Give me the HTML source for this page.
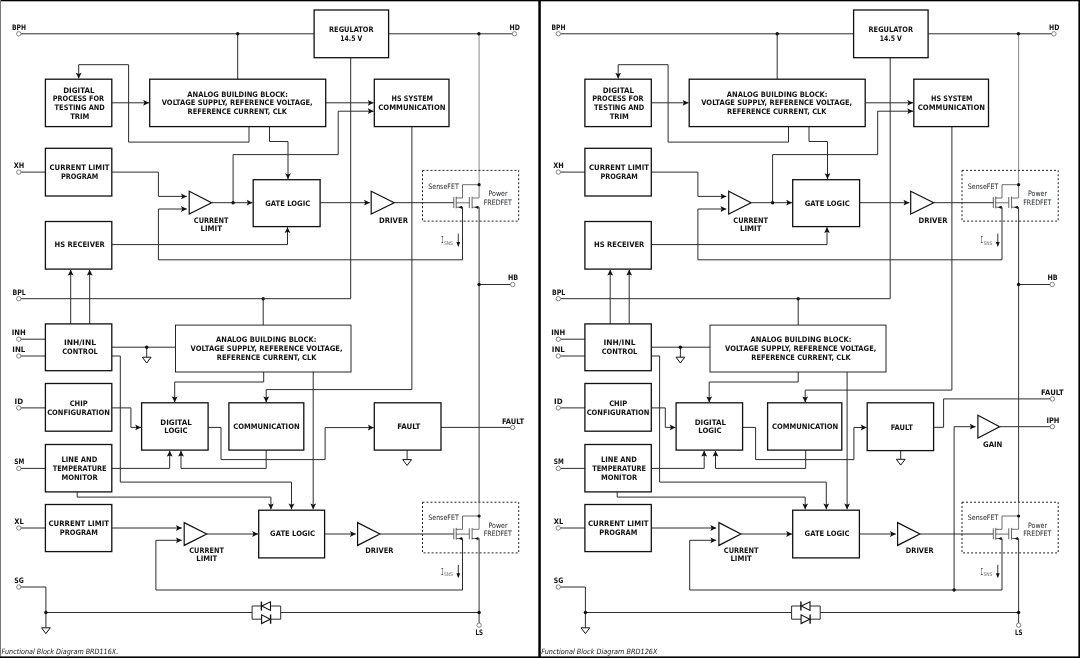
<!DOCTYPE html>
<html lang="en"><head><meta charset="utf-8"><title>Functional Block Diagrams BRD116X / BRD126X</title>
<style>
html,body{margin:0;padding:0;background:#fff}
body{width:1080px;height:658px;overflow:hidden;position:relative}
svg{display:block;position:absolute;left:0;top:0;will-change:transform}
text{font-family:"DejaVu Sans","Liberation Sans",sans-serif}
.b{font-weight:bold;font-size:7.5px;fill:#111}
.r{font-weight:normal;font-size:7.4px;fill:#24262c}
.cap{font-family:"DejaVu Sans","Liberation Sans",sans-serif;font-style:italic;font-size:7.2px;fill:#111}
</style></head><body>
<svg width="1080" height="658" viewBox="0 0 1080 658">
<rect x="0" y="0" width="1080" height="658" fill="#fff"/>
<g id="left">
<path d="M411.9 126.6 L411.9 389.6 L266.2 389.6 L266.2 402.2" fill="none" stroke="#2c2c2c" stroke-width="1"/>
<polygon points="266.2,402.2 263.3,396.4 266.2,397.6 269.1,396.4" fill="#111"/>
<path d="M263.2 298.7 L263.2 325.1" fill="none" stroke="#2c2c2c" stroke-width="1"/>
<circle cx="263.2" cy="298.7" r="1.7" fill="#111"/>
<path d="M111.8 347.2 L175.5 347.2" fill="none" stroke="#2c2c2c" stroke-width="1"/>
<path d="M146.7 347.2 L146.7 357.2" fill="none" stroke="#2c2c2c" stroke-width="1"/>
<polygon points="142.3,357.2 151.1,357.2 146.7,363" fill="#fff" stroke="#111" stroke-width="1"/>
<circle cx="146.7" cy="347.2" r="1.7" fill="#111"/>
<path d="M111.8 356 L120.3 356 L120.3 482.1 L291.5 482.1 L291.5 509.3" fill="none" stroke="#2c2c2c" stroke-width="1"/>
<polygon points="291.5,509.3 288.6,503.5 291.5,504.7 294.4,503.5" fill="#111"/>
<path d="M263.7 372 L263.7 382 L174.7 382 L174.7 402.2" fill="none" stroke="#2c2c2c" stroke-width="1"/>
<polygon points="174.7,402.2 171.8,396.4 174.7,397.6 177.6,396.4" fill="#111"/>
<path d="M313.2 372 L313.2 509.3" fill="none" stroke="#2c2c2c" stroke-width="1"/>
<polygon points="313.2,509.3 310.3,503.5 313.2,504.7 316.1,503.5" fill="#111"/>
<path d="M111.8 407.9 L130.9 407.9 L130.9 427.4 L141 427.4" fill="none" stroke="#2c2c2c" stroke-width="1"/>
<polygon points="141,427.4 135.2,424.5 136.4,427.4 135.2,430.3" fill="#111"/>
<path d="M208.1 427.4 L221 427.4 L221 459.6 L325.1 459.6 L325.1 427.6 L373.7 427.6" fill="none" stroke="#2c2c2c" stroke-width="1"/>
<polygon points="373.7,427.6 367.9,424.7 369.1,427.6 367.9,430.5" fill="#111"/>
<path d="M266.2 450.1 L266.2 468.4 L181 468.4 L181 450.8" fill="none" stroke="#2c2c2c" stroke-width="1"/>
<polygon points="181,450.8 178.1,456.6 181,455.4 183.9,456.6" fill="#111"/>
<path d="M111.8 468.4 L169.7 468.4 L169.7 450.8" fill="none" stroke="#2c2c2c" stroke-width="1"/>
<polygon points="169.7,450.8 166.8,456.6 169.7,455.4 172.6,456.6" fill="#111"/>
<path d="M77.2 491.9 L77.2 497.1 L270.9 497.1 L270.9 509.3" fill="none" stroke="#2c2c2c" stroke-width="1"/>
<polygon points="270.9,509.3 268,503.5 270.9,504.7 273.8,503.5" fill="#111"/>
<path d="M111.8 528 L181.8 528" fill="none" stroke="#2c2c2c" stroke-width="1"/>
<polygon points="181.8,528 176,525.1 177.2,528 176,530.9" fill="#111"/>
<path d="M462.5 538.5 L462.5 590 L155.9 590 L155.9 540.3 L181.8 540.3" fill="none" stroke="#2c2c2c" stroke-width="1"/>
<polygon points="181.8,540.3 176,537.4 177.2,540.3 176,543.2" fill="#111"/>
<path d="M207.1 534 L258 534" fill="none" stroke="#2c2c2c" stroke-width="1"/>
<polygon points="258,534 252.2,531.1 253.4,534 252.2,536.9" fill="#111"/>
<path d="M324.6 534 L355.8 534" fill="none" stroke="#2c2c2c" stroke-width="1"/>
<polygon points="355.8,534 350,531.1 351.2,534 350,536.9" fill="#111"/>
<path d="M380.3 534 L453.8 534" fill="none" stroke="#2c2c2c" stroke-width="1"/>
<path d="M441 427.4 L510.6 427.4" fill="none" stroke="#2c2c2c" stroke-width="1"/>
<path d="M407.1 450.1 L407.1 459.6" fill="none" stroke="#2c2c2c" stroke-width="1"/>
<polygon points="402.7,459.6 411.5,459.6 407.1,465.4" fill="#fff" stroke="#111" stroke-width="1"/>
<rect x="175.5" y="325.1" width="175.5" height="46.9" fill="#fff" stroke="#111" stroke-width="0.9"/>
<rect x="141.6" y="402.8" width="66.5" height="47.3" fill="#fff" stroke="#111" stroke-width="1.3"/>
<rect x="228.9" y="402.8" width="74.9" height="47.3" fill="#fff" stroke="#111" stroke-width="1.3"/>
<rect x="374.3" y="402.8" width="66.7" height="47.3" fill="#fff" stroke="#111" stroke-width="1.3"/>
<rect x="258.7" y="510.2" width="65.9" height="47.7" fill="#fff" stroke="#111" stroke-width="1.3"/>
<polygon points="184.2,522.6 206.7,534 184.2,545.4" fill="#fff" stroke="#111" stroke-width="1.2" stroke-linejoin="miter"/>
<polygon points="357.6,522.6 379.9,534 357.6,545.4" fill="#fff" stroke="#111" stroke-width="1.2" stroke-linejoin="miter"/>
<circle cx="512.7" cy="427.4" r="2.2" fill="#fff" stroke="#666" stroke-width="0.8"/>
<text x="266.2" y="341.93" class="b" text-anchor="middle" textLength="100.3" lengthAdjust="spacingAndGlyphs">ANALOG BUILDING BLOCK:</text>
<text x="266.6" y="351.13" class="b" text-anchor="middle" textLength="152" lengthAdjust="spacingAndGlyphs">VOLTAGE SUPPLY, REFERENCE VOLTAGE,</text>
<text x="266.6" y="359.93" class="b" text-anchor="middle" textLength="99.6" lengthAdjust="spacingAndGlyphs">REFERENCE CURRENT, CLK</text>
<text x="176" y="424.63" class="b" text-anchor="middle" textLength="31.4" lengthAdjust="spacingAndGlyphs">DIGITAL</text>
<text x="175.9" y="433.43" class="b" text-anchor="middle" textLength="23.3" lengthAdjust="spacingAndGlyphs">LOGIC</text>
<text x="266.4" y="429.33" class="b" text-anchor="middle" textLength="66.5" lengthAdjust="spacingAndGlyphs">COMMUNICATION</text>
<text x="408.8" y="429.33" class="b" text-anchor="middle" textLength="23.3" lengthAdjust="spacingAndGlyphs">FAULT</text>
<text x="513" y="423.63" class="b" text-anchor="middle" textLength="22.1" lengthAdjust="spacingAndGlyphs">FAULT</text>
<text x="206.6" y="553.13" class="b" text-anchor="middle" textLength="34.6" lengthAdjust="spacingAndGlyphs">CURRENT</text>
<text x="206.8" y="561.43" class="b" text-anchor="middle" textLength="21" lengthAdjust="spacingAndGlyphs">LIMIT</text>
<text x="292.6" y="536.03" class="b" text-anchor="middle" textLength="45" lengthAdjust="spacingAndGlyphs">GATE LOGIC</text>
<text x="379.4" y="552.63" class="b" text-anchor="middle" textLength="28.3" lengthAdjust="spacingAndGlyphs">DRIVER</text>
<path d="M21 33.8 L314.1 33.8" fill="none" stroke="#2c2c2c" stroke-width="1"/>
<path d="M388.6 33.8 L512.3 33.8" fill="none" stroke="#2c2c2c" stroke-width="1"/>
<path d="M237.7 33.8 L237.7 79.2" fill="none" stroke="#2c2c2c" stroke-width="1"/>
<path d="M479.1 33.8 L479.1 170" fill="none" stroke="#8a8a8a" stroke-width="1"/>
<path d="M479.1 170 L479.1 184.7" fill="none" stroke="#8a8a8a" stroke-width="1"/>
<path d="M479.1 207.2 L479.1 502" fill="none" stroke="#333" stroke-width="1"/>
<path d="M479.1 502 L479.1 516" fill="none" stroke="#8a8a8a" stroke-width="1"/>
<path d="M479.1 538.5 L479.1 623" fill="none" stroke="#333" stroke-width="1"/>
<path d="M479.1 284.5 L510.6 284.5" fill="none" stroke="#2c2c2c" stroke-width="1"/>
<path d="M350.7 57.7 L350.7 298.7 L21 298.7" fill="none" stroke="#2c2c2c" stroke-width="1"/>
<path d="M249 126.6 L249 142.1 L128.6 142.1 L128.6 64.7 L78.7 64.7 L78.7 78.6" fill="none" stroke="#2c2c2c" stroke-width="1"/>
<polygon points="78.7,78.6 75.8,72.8 78.7,74 81.6,72.8" fill="#111"/>
<path d="M111.8 102.8 L149 102.8" fill="none" stroke="#2c2c2c" stroke-width="1"/>
<polygon points="149,102.8 143.2,99.9 144.4,102.8 143.2,105.7" fill="#111"/>
<path d="M269.5 126.6 L269.5 141.5 L288 141.5 L288 179" fill="none" stroke="#2c2c2c" stroke-width="1"/>
<polygon points="288,179 285.1,173.2 288,174.4 290.9,173.2" fill="#111"/>
<path d="M325.7 102.8 L373.6 102.8" fill="none" stroke="#2c2c2c" stroke-width="1"/>
<polygon points="373.6,102.8 367.8,99.9 369,102.8 367.8,105.7" fill="#111"/>
<path d="M233.1 202.7 L233.1 154.6 L338.2 154.6 L338.2 111.2 L373.6 111.2" fill="none" stroke="#2c2c2c" stroke-width="1"/>
<polygon points="373.6,111.2 367.8,108.3 369,111.2 367.8,114.1" fill="#111"/>
<path d="M21 172.1 L45.4 172.1" fill="none" stroke="#2c2c2c" stroke-width="1"/>
<path d="M111.8 172.1 L158.4 172.1 L158.4 196.4 L186.8 196.4" fill="none" stroke="#2c2c2c" stroke-width="1"/>
<polygon points="186.8,196.4 181,193.5 182.2,196.4 181,199.3" fill="#111"/>
<path d="M462.5 207.2 L462.5 259.8 L158.4 259.8 L158.4 209 L186.8 209" fill="none" stroke="#2c2c2c" stroke-width="1"/>
<polygon points="186.8,209 181,206.1 182.2,209 181,211.9" fill="#111"/>
<path d="M212 202.7 L252.5 202.7" fill="none" stroke="#2c2c2c" stroke-width="1"/>
<polygon points="252.5,202.7 246.7,199.8 247.9,202.7 246.7,205.6" fill="#111"/>
<path d="M111.8 244.6 L287.5 244.6 L287.5 227.2" fill="none" stroke="#2c2c2c" stroke-width="1"/>
<polygon points="287.5,227.2 284.6,233 287.5,231.8 290.4,233" fill="#111"/>
<path d="M320.1 202.7 L369.8 202.7" fill="none" stroke="#2c2c2c" stroke-width="1"/>
<polygon points="369.8,202.7 364,199.8 365.2,202.7 364,205.6" fill="#111"/>
<path d="M394.6 202.7 L453.8 202.7" fill="none" stroke="#2c2c2c" stroke-width="1"/>
<path d="M70.7 323.9 L70.7 269.8" fill="none" stroke="#2c2c2c" stroke-width="1"/>
<polygon points="70.7,269.8 67.8,275.6 70.7,274.4 73.6,275.6" fill="#111"/>
<path d="M89.7 323.9 L89.7 269.8" fill="none" stroke="#2c2c2c" stroke-width="1"/>
<polygon points="89.7,269.8 86.8,275.6 89.7,274.4 92.6,275.6" fill="#111"/>
<path d="M21 339.2 L45.4 339.2" fill="none" stroke="#2c2c2c" stroke-width="1"/>
<path d="M21 356 L45.4 356" fill="none" stroke="#2c2c2c" stroke-width="1"/>
<path d="M21 407.9 L45.4 407.9" fill="none" stroke="#2c2c2c" stroke-width="1"/>
<path d="M21 468.4 L45.4 468.4" fill="none" stroke="#2c2c2c" stroke-width="1"/>
<path d="M21 528 L45.4 528" fill="none" stroke="#2c2c2c" stroke-width="1"/>
<path d="M21 587 L45.9 587 L45.9 612.5" fill="none" stroke="#2c2c2c" stroke-width="1"/>
<path d="M45.9 612.5 L45.9 627.8" fill="none" stroke="#2c2c2c" stroke-width="1"/>
<polygon points="41.5,627.8 50.3,627.8 45.9,633.6" fill="#fff" stroke="#111" stroke-width="1"/>
<path d="M45.9 612.5 L252.1 612.5" fill="none" stroke="#2c2c2c" stroke-width="1"/>
<path d="M280.7 612.5 L479.1 612.5" fill="none" stroke="#2c2c2c" stroke-width="1"/>
<path d="M252.1 606 L252.1 619.2" fill="none" stroke="#2c2c2c" stroke-width="1"/>
<path d="M280.7 606 L280.7 619.2" fill="none" stroke="#2c2c2c" stroke-width="1"/>
<path d="M252.1 606 L261.4 606" fill="none" stroke="#2c2c2c" stroke-width="1"/>
<path d="M270.7 606 L280.7 606" fill="none" stroke="#2c2c2c" stroke-width="1"/>
<path d="M252.1 619.2 L261.6 619.2" fill="none" stroke="#2c2c2c" stroke-width="1"/>
<path d="M270.5 619.2 L280.7 619.2" fill="none" stroke="#2c2c2c" stroke-width="1"/>
<polygon points="261.8,606 270.5,601.8 270.5,610.4" fill="#fff" stroke="#111" stroke-width="1.1"/>
<path d="M261.4 601.6 L261.4 610.6" fill="none" stroke="#111" stroke-width="1.4"/>
<polygon points="270.2,619.2 261.6,614.8 261.6,623.6" fill="#fff" stroke="#111" stroke-width="1.1"/>
<path d="M270.6 614.5 L270.6 623.8" fill="none" stroke="#111" stroke-width="1.4"/>
<rect x="314.1" y="10" width="74.5" height="47.7" fill="#fff" stroke="#111" stroke-width="1.3"/>
<rect x="45.4" y="79.2" width="66.4" height="47.4" fill="#fff" stroke="#111" stroke-width="1.3"/>
<rect x="149.7" y="79.2" width="176" height="47.4" fill="#fff" stroke="#111" stroke-width="1.3"/>
<rect x="374.3" y="79.2" width="74.7" height="47.4" fill="#fff" stroke="#111" stroke-width="1.3"/>
<rect x="45.4" y="148.3" width="66.4" height="47.7" fill="#fff" stroke="#111" stroke-width="1.3"/>
<rect x="45.4" y="221.5" width="66.4" height="47.6" fill="#fff" stroke="#111" stroke-width="1.3"/>
<rect x="253.2" y="179.7" width="66.9" height="46.9" fill="#fff" stroke="#111" stroke-width="1.3"/>
<rect x="45.4" y="323.9" width="66.4" height="46.8" fill="#fff" stroke="#111" stroke-width="1.3"/>
<rect x="45.4" y="383.5" width="66.4" height="47.7" fill="#fff" stroke="#111" stroke-width="1.3"/>
<rect x="45.4" y="444.5" width="66.4" height="47.4" fill="#fff" stroke="#111" stroke-width="1.3"/>
<rect x="45.4" y="504.5" width="66.4" height="47.1" fill="#fff" stroke="#111" stroke-width="1.3"/>
<polygon points="189.2,191.3 211.6,202.7 189.2,214.1" fill="#fff" stroke="#111" stroke-width="1.2" stroke-linejoin="miter"/>
<polygon points="371.2,191.3 394.2,202.7 371.2,214.1" fill="#fff" stroke="#111" stroke-width="1.2" stroke-linejoin="miter"/>
<circle cx="237.7" cy="33.8" r="1.7" fill="#111"/>
<circle cx="478.9" cy="33.8" r="1.7" fill="#111"/>
<circle cx="233.1" cy="202.7" r="1.7" fill="#111"/>
<circle cx="479.1" cy="284.5" r="1.7" fill="#111"/>
<circle cx="45.9" cy="612.5" r="1.7" fill="#111"/>
<circle cx="479.1" cy="612.5" r="1.7" fill="#111"/>
<circle cx="18.8" cy="33.8" r="2.2" fill="#fff" stroke="#666" stroke-width="0.8"/>
<circle cx="514.4" cy="33.8" r="2.2" fill="#fff" stroke="#666" stroke-width="0.8"/>
<circle cx="18.8" cy="172.1" r="2.2" fill="#fff" stroke="#666" stroke-width="0.8"/>
<circle cx="18.8" cy="298.7" r="2.2" fill="#fff" stroke="#666" stroke-width="0.8"/>
<circle cx="18.8" cy="339.2" r="2.2" fill="#fff" stroke="#666" stroke-width="0.8"/>
<circle cx="18.8" cy="356" r="2.2" fill="#fff" stroke="#666" stroke-width="0.8"/>
<circle cx="18.8" cy="407.9" r="2.2" fill="#fff" stroke="#666" stroke-width="0.8"/>
<circle cx="18.8" cy="468.4" r="2.2" fill="#fff" stroke="#666" stroke-width="0.8"/>
<circle cx="18.8" cy="528" r="2.2" fill="#fff" stroke="#666" stroke-width="0.8"/>
<circle cx="18.8" cy="587" r="2.2" fill="#fff" stroke="#666" stroke-width="0.8"/>
<circle cx="512.7" cy="284.5" r="2.2" fill="#fff" stroke="#666" stroke-width="0.8"/>
<circle cx="479.1" cy="625.2" r="2.2" fill="#fff" stroke="#666" stroke-width="0.8"/>
<rect x="422.5" y="170.4" width="96.2" height="50.7" fill="none" stroke="#222" stroke-width="1" stroke-dasharray="2 2"/>
<path d="M479.1 184.7 L462.5 184.7 L462.5 198 L456.2 198" fill="none" stroke="#505050" stroke-width="0.85"/>
<path d="M453.8 197 L453.8 208" fill="none" stroke="#505050" stroke-width="0.9"/>
<path d="M456.2 196.6 L456.2 208.4" fill="none" stroke="#505050" stroke-width="0.9"/>
<path d="M456.2 207.2 L462.5 207.2" fill="none" stroke="#505050" stroke-width="0.85"/>
<polygon points="458.4,207.3 462.2,205.7 462.2,208.9" fill="#111"/>
<path d="M456.2 202.8 L469.3 202.8" fill="none" stroke="#505050" stroke-width="0.85"/>
<path d="M469.3 197 L469.3 208" fill="none" stroke="#505050" stroke-width="0.9"/>
<path d="M472.1 196.6 L472.1 208.4" fill="none" stroke="#505050" stroke-width="0.9"/>
<path d="M472.1 198 L479.1 198 L479.1 184.7" fill="none" stroke="#777" stroke-width="1"/>
<path d="M472.1 207.2 L479.1 207.2" fill="none" stroke="#505050" stroke-width="0.85"/>
<polygon points="474.6,207.3 478.4,205.7 478.4,208.9" fill="#111"/>
<circle cx="479.1" cy="184.7" r="1.6" fill="#111"/>
<text x="443.5" y="188.6" class="r" text-anchor="middle" textLength="30.5" lengthAdjust="spacingAndGlyphs">SenseFET</text>
<text x="498" y="196.3" class="r" text-anchor="middle" textLength="19" lengthAdjust="spacingAndGlyphs">Power</text>
<text x="497.8" y="204.8" class="r" text-anchor="middle" textLength="28.2" lengthAdjust="spacingAndGlyphs">FREDFET</text>
<text x="441.1" y="243.3" class="r" style="font-family:'DejaVu Sans Mono','Liberation Mono',monospace;font-size:8px;fill:#333" textLength="2.6" lengthAdjust="spacingAndGlyphs">I</text>
<text x="443.9" y="245.1" class="r" style="font-size:5px;fill:#707070" textLength="9" lengthAdjust="spacingAndGlyphs">SNS</text>
<path d="M458.3 233.6 L458.3 243.5" fill="none" stroke="#222" stroke-width="0.9"/>
<polygon points="458.3,247 456.4,242 460.2,242" fill="#111"/>
<rect x="422.5" y="502.2" width="96.2" height="50.7" fill="none" stroke="#222" stroke-width="1" stroke-dasharray="2 2"/>
<path d="M479.1 516 L462.5 516 L462.5 529.3 L456.2 529.3" fill="none" stroke="#505050" stroke-width="0.85"/>
<path d="M453.8 528.3 L453.8 539.3" fill="none" stroke="#505050" stroke-width="0.9"/>
<path d="M456.2 527.9 L456.2 539.7" fill="none" stroke="#505050" stroke-width="0.9"/>
<path d="M456.2 538.5 L462.5 538.5" fill="none" stroke="#505050" stroke-width="0.85"/>
<polygon points="458.4,538.6 462.2,537 462.2,540.2" fill="#111"/>
<path d="M456.2 534.1 L469.3 534.1" fill="none" stroke="#505050" stroke-width="0.85"/>
<path d="M469.3 528.3 L469.3 539.3" fill="none" stroke="#505050" stroke-width="0.9"/>
<path d="M472.1 527.9 L472.1 539.7" fill="none" stroke="#505050" stroke-width="0.9"/>
<path d="M472.1 529.3 L479.1 529.3 L479.1 516" fill="none" stroke="#777" stroke-width="1"/>
<path d="M472.1 538.5 L479.1 538.5" fill="none" stroke="#505050" stroke-width="0.85"/>
<polygon points="474.6,538.6 478.4,537 478.4,540.2" fill="#111"/>
<circle cx="479.1" cy="516" r="1.6" fill="#111"/>
<text x="443.5" y="519.9" class="r" text-anchor="middle" textLength="30.5" lengthAdjust="spacingAndGlyphs">SenseFET</text>
<text x="498" y="527.6" class="r" text-anchor="middle" textLength="19" lengthAdjust="spacingAndGlyphs">Power</text>
<text x="497.8" y="536.1" class="r" text-anchor="middle" textLength="28.2" lengthAdjust="spacingAndGlyphs">FREDFET</text>
<text x="441.1" y="574.6" class="r" style="font-family:'DejaVu Sans Mono','Liberation Mono',monospace;font-size:8px;fill:#333" textLength="2.6" lengthAdjust="spacingAndGlyphs">I</text>
<text x="443.9" y="576.4" class="r" style="font-size:5px;fill:#707070" textLength="9" lengthAdjust="spacingAndGlyphs">SNS</text>
<path d="M458.3 564.9 L458.3 574.8" fill="none" stroke="#222" stroke-width="0.9"/>
<polygon points="458.3,578.3 456.4,573.3 460.2,573.3" fill="#111"/>
<text x="19" y="29.73" class="b" text-anchor="middle" textLength="14" lengthAdjust="spacingAndGlyphs">BPH</text>
<text x="514.7" y="29.53" class="b" text-anchor="middle" textLength="10.4" lengthAdjust="spacingAndGlyphs">HD</text>
<text x="351.3" y="31.83" class="b" text-anchor="middle" textLength="44.6" lengthAdjust="spacingAndGlyphs">REGULATOR</text>
<text x="351.3" y="40.63" class="b" text-anchor="middle" textLength="22" lengthAdjust="spacingAndGlyphs">14.5 V</text>
<text x="78.8" y="92.53" class="b" text-anchor="middle" textLength="31.3" lengthAdjust="spacingAndGlyphs">DIGITAL</text>
<text x="78.4" y="101.33" class="b" text-anchor="middle" textLength="51.4" lengthAdjust="spacingAndGlyphs">PROCESS FOR</text>
<text x="79.7" y="110.03" class="b" text-anchor="middle" textLength="50.2" lengthAdjust="spacingAndGlyphs">TESTING AND</text>
<text x="79.8" y="118.83" class="b" text-anchor="middle" textLength="19.3" lengthAdjust="spacingAndGlyphs">TRIM</text>
<text x="237.7" y="96.63" class="b" text-anchor="middle" textLength="100.7" lengthAdjust="spacingAndGlyphs">ANALOG BUILDING BLOCK:</text>
<text x="237.2" y="105.43" class="b" text-anchor="middle" textLength="150.9" lengthAdjust="spacingAndGlyphs">VOLTAGE SUPPLY, REFERENCE VOLTAGE,</text>
<text x="237.3" y="114.13" class="b" text-anchor="middle" textLength="99.5" lengthAdjust="spacingAndGlyphs">REFERENCE CURRENT, CLK</text>
<text x="412.3" y="100.83" class="b" text-anchor="middle" textLength="41.4" lengthAdjust="spacingAndGlyphs">HS SYSTEM</text>
<text x="411.9" y="109.53" class="b" text-anchor="middle" textLength="67.2" lengthAdjust="spacingAndGlyphs">COMMUNICATION</text>
<text x="19" y="168.23" class="b" text-anchor="middle" textLength="10.5" lengthAdjust="spacingAndGlyphs">XH</text>
<text x="79.5" y="170.23" class="b" text-anchor="middle" textLength="59.9" lengthAdjust="spacingAndGlyphs">CURRENT LIMIT</text>
<text x="79.6" y="179.03" class="b" text-anchor="middle" textLength="37.4" lengthAdjust="spacingAndGlyphs">PROGRAM</text>
<text x="211.2" y="222.63" class="b" text-anchor="middle" textLength="34.8" lengthAdjust="spacingAndGlyphs">CURRENT</text>
<text x="211.2" y="231.33" class="b" text-anchor="middle" textLength="21.5" lengthAdjust="spacingAndGlyphs">LIMIT</text>
<text x="287.7" y="205.53" class="b" text-anchor="middle" textLength="45" lengthAdjust="spacingAndGlyphs">GATE LOGIC</text>
<text x="393.5" y="222.63" class="b" text-anchor="middle" textLength="29" lengthAdjust="spacingAndGlyphs">DRIVER</text>
<text x="79.7" y="247.13" class="b" text-anchor="middle" textLength="50.2" lengthAdjust="spacingAndGlyphs">HS RECEIVER</text>
<text x="513.1" y="280.13" class="b" text-anchor="middle" textLength="10.2" lengthAdjust="spacingAndGlyphs">HB</text>
<text x="19.2" y="294.53" class="b" text-anchor="middle" textLength="13.3" lengthAdjust="spacingAndGlyphs">BPL</text>
<text x="18.8" y="334.73" class="b" text-anchor="middle" textLength="14" lengthAdjust="spacingAndGlyphs">INH</text>
<text x="18.8" y="351.63" class="b" text-anchor="middle" textLength="13" lengthAdjust="spacingAndGlyphs">INL</text>
<text x="80" y="345.13" class="b" text-anchor="middle" textLength="32.1" lengthAdjust="spacingAndGlyphs">INH/INL</text>
<text x="80" y="353.93" class="b" text-anchor="middle" textLength="35.6" lengthAdjust="spacingAndGlyphs">CONTROL</text>
<text x="18.8" y="404.13" class="b" text-anchor="middle" textLength="8.6" lengthAdjust="spacingAndGlyphs">ID</text>
<text x="78.7" y="405.83" class="b" text-anchor="middle" textLength="18" lengthAdjust="spacingAndGlyphs">CHIP</text>
<text x="78.5" y="414.63" class="b" text-anchor="middle" textLength="62.7" lengthAdjust="spacingAndGlyphs">CONFIGURATION</text>
<text x="19.3" y="463.93" class="b" text-anchor="middle" textLength="10" lengthAdjust="spacingAndGlyphs">SM</text>
<text x="79.4" y="462.43" class="b" text-anchor="middle" textLength="35.9" lengthAdjust="spacingAndGlyphs">LINE AND</text>
<text x="79.6" y="471.23" class="b" text-anchor="middle" textLength="53.9" lengthAdjust="spacingAndGlyphs">TEMPERATURE</text>
<text x="79.6" y="479.93" class="b" text-anchor="middle" textLength="36.4" lengthAdjust="spacingAndGlyphs">MONITOR</text>
<text x="19" y="523.63" class="b" text-anchor="middle" textLength="9.5" lengthAdjust="spacingAndGlyphs">XL</text>
<text x="78.7" y="525.73" class="b" text-anchor="middle" textLength="60.6" lengthAdjust="spacingAndGlyphs">CURRENT LIMIT</text>
<text x="78.8" y="534.53" class="b" text-anchor="middle" textLength="38.1" lengthAdjust="spacingAndGlyphs">PROGRAM</text>
<text x="19" y="582.63" class="b" text-anchor="middle" textLength="9.5" lengthAdjust="spacingAndGlyphs">SG</text>
<text x="479.3" y="634.73" class="b" text-anchor="middle" textLength="7.5" lengthAdjust="spacingAndGlyphs">LS</text>
<text x="1.6" y="654" class="cap" textLength="116.6" lengthAdjust="spacingAndGlyphs">Functional Block Diagram BRD116X.</text>
</g>
<g id="right">
<path d="M951.9 126.6 L951.9 390.1 L805.2 390.1 L805.2 402.2" fill="none" stroke="#2c2c2c" stroke-width="1"/>
<polygon points="805.2,402.2 802.3,396.4 805.2,397.6 808.1,396.4" fill="#111"/>
<path d="M798.2 298.7 L798.2 325.1" fill="none" stroke="#2c2c2c" stroke-width="1"/>
<circle cx="798.2" cy="298.7" r="1.7" fill="#111"/>
<path d="M651.3 347.2 L710 347.2" fill="none" stroke="#2c2c2c" stroke-width="1"/>
<path d="M680.4 347.2 L680.4 357.2" fill="none" stroke="#2c2c2c" stroke-width="1"/>
<polygon points="676,357.2 684.8,357.2 680.4,363" fill="#fff" stroke="#111" stroke-width="1"/>
<circle cx="680.4" cy="347.2" r="1.7" fill="#111"/>
<path d="M651.3 356 L659.6 356 L659.6 482.1 L826.3 482.1 L826.3 509.3" fill="none" stroke="#2c2c2c" stroke-width="1"/>
<polygon points="826.3,509.3 823.4,503.5 826.3,504.7 829.2,503.5" fill="#111"/>
<path d="M798.2 372 L798.2 382 L709.2 382 L709.2 402.2" fill="none" stroke="#2c2c2c" stroke-width="1"/>
<polygon points="709.2,402.2 706.3,396.4 709.2,397.6 712.1,396.4" fill="#111"/>
<path d="M847.1 372 L847.1 509.3" fill="none" stroke="#2c2c2c" stroke-width="1"/>
<polygon points="847.1,509.3 844.2,503.5 847.1,504.7 850,503.5" fill="#111"/>
<path d="M651.3 407.9 L665.3 407.9 L665.3 427.4 L675.5 427.4" fill="none" stroke="#2c2c2c" stroke-width="1"/>
<polygon points="675.5,427.4 669.7,424.5 670.9,427.4 669.7,430.3" fill="#111"/>
<path d="M742.6 427.4 L755.6 427.4 L755.6 459.6 L853.9 459.6 L853.9 427.5 L866.6 427.5" fill="none" stroke="#2c2c2c" stroke-width="1"/>
<polygon points="866.6,427.5 860.8,424.6 862,427.5 860.8,430.4" fill="#111"/>
<path d="M805.7 450.1 L805.7 468.4 L715.5 468.4 L715.5 450.8" fill="none" stroke="#2c2c2c" stroke-width="1"/>
<polygon points="715.5,450.8 712.6,456.6 715.5,455.4 718.4,456.6" fill="#111"/>
<path d="M651.3 468.4 L704.2 468.4 L704.2 450.8" fill="none" stroke="#2c2c2c" stroke-width="1"/>
<polygon points="704.2,450.8 701.3,456.6 704.2,455.4 707.1,456.6" fill="#111"/>
<path d="M617.2 491.9 L617.2 497.1 L805.2 497.1 L805.2 509.3" fill="none" stroke="#2c2c2c" stroke-width="1"/>
<polygon points="805.2,509.3 802.3,503.5 805.2,504.7 808.1,503.5" fill="#111"/>
<path d="M651.3 528 L716.2 528" fill="none" stroke="#2c2c2c" stroke-width="1"/>
<polygon points="716.2,528 710.4,525.1 711.6,528 710.4,530.9" fill="#111"/>
<path d="M1002 538.5 L1002 590 L689.7 590 L689.7 540.3 L716.2 540.3" fill="none" stroke="#2c2c2c" stroke-width="1"/>
<polygon points="716.2,540.3 710.4,537.4 711.6,540.3 710.4,543.2" fill="#111"/>
<path d="M741.3 534 L792 534" fill="none" stroke="#2c2c2c" stroke-width="1"/>
<polygon points="792,534 786.2,531.1 787.4,534 786.2,536.9" fill="#111"/>
<path d="M859.4 534 L895.8 534" fill="none" stroke="#2c2c2c" stroke-width="1"/>
<polygon points="895.8,534 890,531.1 891.2,534 890,536.9" fill="#111"/>
<path d="M920.3 534 L993.3 534" fill="none" stroke="#2c2c2c" stroke-width="1"/>
<path d="M954.1 590 L954.1 426.7 L975.6 426.7" fill="none" stroke="#2c2c2c" stroke-width="1"/>
<polygon points="975.6,426.7 969.8,423.8 971,426.7 969.8,429.6" fill="#111"/>
<circle cx="954.1" cy="590" r="1.7" fill="#111"/>
<path d="M1000 426.7 L1050.3 426.7" fill="none" stroke="#2c2c2c" stroke-width="1"/>
<path d="M933.6 427.3 L943.6 427.3 L943.6 398.9 L1050.3 398.9" fill="none" stroke="#2c2c2c" stroke-width="1"/>
<path d="M900.7 450.8 L900.7 459.3" fill="none" stroke="#2c2c2c" stroke-width="1"/>
<polygon points="896.3,459.3 905.1,459.3 900.7,465.1" fill="#fff" stroke="#111" stroke-width="1"/>
<rect x="710" y="325.1" width="176" height="46.9" fill="#fff" stroke="#111" stroke-width="0.9"/>
<rect x="676.1" y="402.8" width="66.5" height="47.3" fill="#fff" stroke="#111" stroke-width="1.3"/>
<rect x="767.6" y="402.8" width="74.2" height="47.3" fill="#fff" stroke="#111" stroke-width="1.3"/>
<rect x="867.2" y="402.8" width="66.4" height="47.8" fill="#fff" stroke="#111" stroke-width="1.3"/>
<rect x="792.7" y="510.2" width="66.7" height="47.7" fill="#fff" stroke="#111" stroke-width="1.3"/>
<polygon points="718.9,522.6 740.9,534 718.9,545.4" fill="#fff" stroke="#111" stroke-width="1.2" stroke-linejoin="miter"/>
<polygon points="897.6,522.6 919.9,534 897.6,545.4" fill="#fff" stroke="#111" stroke-width="1.2" stroke-linejoin="miter"/>
<polygon points="977.9,415.3 999.6,426.7 977.9,438.1" fill="#fff" stroke="#111" stroke-width="1.2" stroke-linejoin="miter"/>
<circle cx="1052.4" cy="398.9" r="2.2" fill="#fff" stroke="#666" stroke-width="0.8"/>
<circle cx="1052.4" cy="426.7" r="2.2" fill="#fff" stroke="#666" stroke-width="0.8"/>
<text x="801" y="341.93" class="b" text-anchor="middle" textLength="100.8" lengthAdjust="spacingAndGlyphs">ANALOG BUILDING BLOCK:</text>
<text x="800.7" y="351.13" class="b" text-anchor="middle" textLength="151.4" lengthAdjust="spacingAndGlyphs">VOLTAGE SUPPLY, REFERENCE VOLTAGE,</text>
<text x="801" y="359.93" class="b" text-anchor="middle" textLength="99.3" lengthAdjust="spacingAndGlyphs">REFERENCE CURRENT, CLK</text>
<text x="710.3" y="424.63" class="b" text-anchor="middle" textLength="31.3" lengthAdjust="spacingAndGlyphs">DIGITAL</text>
<text x="710" y="433.43" class="b" text-anchor="middle" textLength="23.3" lengthAdjust="spacingAndGlyphs">LOGIC</text>
<text x="805.1" y="429.33" class="b" text-anchor="middle" textLength="66.4" lengthAdjust="spacingAndGlyphs">COMMUNICATION</text>
<text x="901.7" y="429.53" class="b" text-anchor="middle" textLength="22.1" lengthAdjust="spacingAndGlyphs">FAULT</text>
<text x="1052.4" y="395.03" class="b" text-anchor="middle" textLength="22.6" lengthAdjust="spacingAndGlyphs">FAULT</text>
<text x="1052.9" y="422.63" class="b" text-anchor="middle" textLength="13" lengthAdjust="spacingAndGlyphs">IPH</text>
<text x="992.7" y="446.93" class="b" text-anchor="middle" textLength="19.5" lengthAdjust="spacingAndGlyphs">GAIN</text>
<text x="741.2" y="553.13" class="b" text-anchor="middle" textLength="34.8" lengthAdjust="spacingAndGlyphs">CURRENT</text>
<text x="741.1" y="561.43" class="b" text-anchor="middle" textLength="21.3" lengthAdjust="spacingAndGlyphs">LIMIT</text>
<text x="827.1" y="536.03" class="b" text-anchor="middle" textLength="45" lengthAdjust="spacingAndGlyphs">GATE LOGIC</text>
<text x="919.7" y="552.63" class="b" text-anchor="middle" textLength="27.8" lengthAdjust="spacingAndGlyphs">DRIVER</text>
<path d="M560.5 33.8 L853.6 33.8" fill="none" stroke="#2c2c2c" stroke-width="1"/>
<path d="M928.1 33.8 L1051.8 33.8" fill="none" stroke="#2c2c2c" stroke-width="1"/>
<path d="M777.2 33.8 L777.2 79.2" fill="none" stroke="#2c2c2c" stroke-width="1"/>
<path d="M1018.6 33.8 L1018.6 170" fill="none" stroke="#8a8a8a" stroke-width="1"/>
<path d="M1018.6 170 L1018.6 184.7" fill="none" stroke="#8a8a8a" stroke-width="1"/>
<path d="M1018.6 207.2 L1018.6 502" fill="none" stroke="#333" stroke-width="1"/>
<path d="M1018.6 502 L1018.6 516" fill="none" stroke="#8a8a8a" stroke-width="1"/>
<path d="M1018.6 538.5 L1018.6 623" fill="none" stroke="#333" stroke-width="1"/>
<path d="M1018.6 284.5 L1050.1 284.5" fill="none" stroke="#2c2c2c" stroke-width="1"/>
<path d="M890.2 57.7 L890.2 298.7 L560.5 298.7" fill="none" stroke="#2c2c2c" stroke-width="1"/>
<path d="M788.5 126.6 L788.5 142.1 L668.1 142.1 L668.1 64.7 L618.2 64.7 L618.2 78.6" fill="none" stroke="#2c2c2c" stroke-width="1"/>
<polygon points="618.2,78.6 615.3,72.8 618.2,74 621.1,72.8" fill="#111"/>
<path d="M651.3 102.8 L688.5 102.8" fill="none" stroke="#2c2c2c" stroke-width="1"/>
<polygon points="688.5,102.8 682.7,99.9 683.9,102.8 682.7,105.7" fill="#111"/>
<path d="M809 126.6 L809 141.5 L827.5 141.5 L827.5 179" fill="none" stroke="#2c2c2c" stroke-width="1"/>
<polygon points="827.5,179 824.6,173.2 827.5,174.4 830.4,173.2" fill="#111"/>
<path d="M865.2 102.8 L913.1 102.8" fill="none" stroke="#2c2c2c" stroke-width="1"/>
<polygon points="913.1,102.8 907.3,99.9 908.5,102.8 907.3,105.7" fill="#111"/>
<path d="M772.6 202.7 L772.6 154.6 L877.7 154.6 L877.7 111.2 L913.1 111.2" fill="none" stroke="#2c2c2c" stroke-width="1"/>
<polygon points="913.1,111.2 907.3,108.3 908.5,111.2 907.3,114.1" fill="#111"/>
<path d="M560.5 172.1 L584.9 172.1" fill="none" stroke="#2c2c2c" stroke-width="1"/>
<path d="M651.3 172.1 L697.9 172.1 L697.9 196.4 L726.3 196.4" fill="none" stroke="#2c2c2c" stroke-width="1"/>
<polygon points="726.3,196.4 720.5,193.5 721.7,196.4 720.5,199.3" fill="#111"/>
<path d="M1002 207.2 L1002 259.8 L697.9 259.8 L697.9 209 L726.3 209" fill="none" stroke="#2c2c2c" stroke-width="1"/>
<polygon points="726.3,209 720.5,206.1 721.7,209 720.5,211.9" fill="#111"/>
<path d="M751.5 202.7 L792 202.7" fill="none" stroke="#2c2c2c" stroke-width="1"/>
<polygon points="792,202.7 786.2,199.8 787.4,202.7 786.2,205.6" fill="#111"/>
<path d="M651.3 244.6 L827 244.6 L827 227.2" fill="none" stroke="#2c2c2c" stroke-width="1"/>
<polygon points="827,227.2 824.1,233 827,231.8 829.9,233" fill="#111"/>
<path d="M859.6 202.7 L909.3 202.7" fill="none" stroke="#2c2c2c" stroke-width="1"/>
<polygon points="909.3,202.7 903.5,199.8 904.7,202.7 903.5,205.6" fill="#111"/>
<path d="M934.1 202.7 L993.3 202.7" fill="none" stroke="#2c2c2c" stroke-width="1"/>
<path d="M610.2 323.9 L610.2 269.8" fill="none" stroke="#2c2c2c" stroke-width="1"/>
<polygon points="610.2,269.8 607.3,275.6 610.2,274.4 613.1,275.6" fill="#111"/>
<path d="M629.2 323.9 L629.2 269.8" fill="none" stroke="#2c2c2c" stroke-width="1"/>
<polygon points="629.2,269.8 626.3,275.6 629.2,274.4 632.1,275.6" fill="#111"/>
<path d="M560.5 339.2 L584.9 339.2" fill="none" stroke="#2c2c2c" stroke-width="1"/>
<path d="M560.5 356 L584.9 356" fill="none" stroke="#2c2c2c" stroke-width="1"/>
<path d="M560.5 407.9 L584.9 407.9" fill="none" stroke="#2c2c2c" stroke-width="1"/>
<path d="M560.5 468.4 L584.9 468.4" fill="none" stroke="#2c2c2c" stroke-width="1"/>
<path d="M560.5 528 L584.9 528" fill="none" stroke="#2c2c2c" stroke-width="1"/>
<path d="M560.5 587 L585.4 587 L585.4 612.5" fill="none" stroke="#2c2c2c" stroke-width="1"/>
<path d="M585.4 612.5 L585.4 627.8" fill="none" stroke="#2c2c2c" stroke-width="1"/>
<polygon points="581,627.8 589.8,627.8 585.4,633.6" fill="#fff" stroke="#111" stroke-width="1"/>
<path d="M585.4 612.5 L791.6 612.5" fill="none" stroke="#2c2c2c" stroke-width="1"/>
<path d="M820.2 612.5 L1018.6 612.5" fill="none" stroke="#2c2c2c" stroke-width="1"/>
<path d="M791.6 606 L791.6 619.2" fill="none" stroke="#2c2c2c" stroke-width="1"/>
<path d="M820.2 606 L820.2 619.2" fill="none" stroke="#2c2c2c" stroke-width="1"/>
<path d="M791.6 606 L800.9 606" fill="none" stroke="#2c2c2c" stroke-width="1"/>
<path d="M810.2 606 L820.2 606" fill="none" stroke="#2c2c2c" stroke-width="1"/>
<path d="M791.6 619.2 L801.1 619.2" fill="none" stroke="#2c2c2c" stroke-width="1"/>
<path d="M810 619.2 L820.2 619.2" fill="none" stroke="#2c2c2c" stroke-width="1"/>
<polygon points="801.3,606 810,601.8 810,610.4" fill="#fff" stroke="#111" stroke-width="1.1"/>
<path d="M800.9 601.6 L800.9 610.6" fill="none" stroke="#111" stroke-width="1.4"/>
<polygon points="809.7,619.2 801.1,614.8 801.1,623.6" fill="#fff" stroke="#111" stroke-width="1.1"/>
<path d="M810.1 614.5 L810.1 623.8" fill="none" stroke="#111" stroke-width="1.4"/>
<rect x="853.6" y="10" width="74.5" height="47.7" fill="#fff" stroke="#111" stroke-width="1.3"/>
<rect x="584.9" y="79.2" width="66.4" height="47.4" fill="#fff" stroke="#111" stroke-width="1.3"/>
<rect x="689.2" y="79.2" width="176" height="47.4" fill="#fff" stroke="#111" stroke-width="1.3"/>
<rect x="913.8" y="79.2" width="74.7" height="47.4" fill="#fff" stroke="#111" stroke-width="1.3"/>
<rect x="584.9" y="148.3" width="66.4" height="47.7" fill="#fff" stroke="#111" stroke-width="1.3"/>
<rect x="584.9" y="221.5" width="66.4" height="47.6" fill="#fff" stroke="#111" stroke-width="1.3"/>
<rect x="792.7" y="179.7" width="66.9" height="46.9" fill="#fff" stroke="#111" stroke-width="1.3"/>
<rect x="584.9" y="323.9" width="66.4" height="46.8" fill="#fff" stroke="#111" stroke-width="1.3"/>
<rect x="584.9" y="383.5" width="66.4" height="47.7" fill="#fff" stroke="#111" stroke-width="1.3"/>
<rect x="584.9" y="444.5" width="66.4" height="47.4" fill="#fff" stroke="#111" stroke-width="1.3"/>
<rect x="584.9" y="504.5" width="66.4" height="47.1" fill="#fff" stroke="#111" stroke-width="1.3"/>
<polygon points="728.7,191.3 751.1,202.7 728.7,214.1" fill="#fff" stroke="#111" stroke-width="1.2" stroke-linejoin="miter"/>
<polygon points="910.7,191.3 933.7,202.7 910.7,214.1" fill="#fff" stroke="#111" stroke-width="1.2" stroke-linejoin="miter"/>
<circle cx="777.2" cy="33.8" r="1.7" fill="#111"/>
<circle cx="1018.4" cy="33.8" r="1.7" fill="#111"/>
<circle cx="772.6" cy="202.7" r="1.7" fill="#111"/>
<circle cx="1018.6" cy="284.5" r="1.7" fill="#111"/>
<circle cx="585.4" cy="612.5" r="1.7" fill="#111"/>
<circle cx="1018.6" cy="612.5" r="1.7" fill="#111"/>
<circle cx="558.3" cy="33.8" r="2.2" fill="#fff" stroke="#666" stroke-width="0.8"/>
<circle cx="1053.9" cy="33.8" r="2.2" fill="#fff" stroke="#666" stroke-width="0.8"/>
<circle cx="558.3" cy="172.1" r="2.2" fill="#fff" stroke="#666" stroke-width="0.8"/>
<circle cx="558.3" cy="298.7" r="2.2" fill="#fff" stroke="#666" stroke-width="0.8"/>
<circle cx="558.3" cy="339.2" r="2.2" fill="#fff" stroke="#666" stroke-width="0.8"/>
<circle cx="558.3" cy="356" r="2.2" fill="#fff" stroke="#666" stroke-width="0.8"/>
<circle cx="558.3" cy="407.9" r="2.2" fill="#fff" stroke="#666" stroke-width="0.8"/>
<circle cx="558.3" cy="468.4" r="2.2" fill="#fff" stroke="#666" stroke-width="0.8"/>
<circle cx="558.3" cy="528" r="2.2" fill="#fff" stroke="#666" stroke-width="0.8"/>
<circle cx="558.3" cy="587" r="2.2" fill="#fff" stroke="#666" stroke-width="0.8"/>
<circle cx="1052.2" cy="284.5" r="2.2" fill="#fff" stroke="#666" stroke-width="0.8"/>
<circle cx="1018.6" cy="625.2" r="2.2" fill="#fff" stroke="#666" stroke-width="0.8"/>
<rect x="962" y="170.4" width="96.2" height="50.7" fill="none" stroke="#222" stroke-width="1" stroke-dasharray="2 2"/>
<path d="M1018.6 184.7 L1002 184.7 L1002 198 L995.7 198" fill="none" stroke="#505050" stroke-width="0.85"/>
<path d="M993.3 197 L993.3 208" fill="none" stroke="#505050" stroke-width="0.9"/>
<path d="M995.7 196.6 L995.7 208.4" fill="none" stroke="#505050" stroke-width="0.9"/>
<path d="M995.7 207.2 L1002 207.2" fill="none" stroke="#505050" stroke-width="0.85"/>
<polygon points="997.9,207.3 1001.7,205.7 1001.7,208.9" fill="#111"/>
<path d="M995.7 202.8 L1008.8 202.8" fill="none" stroke="#505050" stroke-width="0.85"/>
<path d="M1008.8 197 L1008.8 208" fill="none" stroke="#505050" stroke-width="0.9"/>
<path d="M1011.6 196.6 L1011.6 208.4" fill="none" stroke="#505050" stroke-width="0.9"/>
<path d="M1011.6 198 L1018.6 198 L1018.6 184.7" fill="none" stroke="#777" stroke-width="1"/>
<path d="M1011.6 207.2 L1018.6 207.2" fill="none" stroke="#505050" stroke-width="0.85"/>
<polygon points="1014.1,207.3 1017.9,205.7 1017.9,208.9" fill="#111"/>
<circle cx="1018.6" cy="184.7" r="1.6" fill="#111"/>
<text x="983" y="188.6" class="r" text-anchor="middle" textLength="30.5" lengthAdjust="spacingAndGlyphs">SenseFET</text>
<text x="1037.5" y="196.3" class="r" text-anchor="middle" textLength="19" lengthAdjust="spacingAndGlyphs">Power</text>
<text x="1037.3" y="204.8" class="r" text-anchor="middle" textLength="28.2" lengthAdjust="spacingAndGlyphs">FREDFET</text>
<text x="980.6" y="243.3" class="r" style="font-family:'DejaVu Sans Mono','Liberation Mono',monospace;font-size:8px;fill:#333" textLength="2.6" lengthAdjust="spacingAndGlyphs">I</text>
<text x="983.4" y="245.1" class="r" style="font-size:5px;fill:#707070" textLength="9" lengthAdjust="spacingAndGlyphs">SNS</text>
<path d="M997.8 233.6 L997.8 243.5" fill="none" stroke="#222" stroke-width="0.9"/>
<polygon points="997.8,247 995.9,242 999.7,242" fill="#111"/>
<rect x="962" y="502.2" width="96.2" height="50.7" fill="none" stroke="#222" stroke-width="1" stroke-dasharray="2 2"/>
<path d="M1018.6 516 L1002 516 L1002 529.3 L995.7 529.3" fill="none" stroke="#505050" stroke-width="0.85"/>
<path d="M993.3 528.3 L993.3 539.3" fill="none" stroke="#505050" stroke-width="0.9"/>
<path d="M995.7 527.9 L995.7 539.7" fill="none" stroke="#505050" stroke-width="0.9"/>
<path d="M995.7 538.5 L1002 538.5" fill="none" stroke="#505050" stroke-width="0.85"/>
<polygon points="997.9,538.6 1001.7,537 1001.7,540.2" fill="#111"/>
<path d="M995.7 534.1 L1008.8 534.1" fill="none" stroke="#505050" stroke-width="0.85"/>
<path d="M1008.8 528.3 L1008.8 539.3" fill="none" stroke="#505050" stroke-width="0.9"/>
<path d="M1011.6 527.9 L1011.6 539.7" fill="none" stroke="#505050" stroke-width="0.9"/>
<path d="M1011.6 529.3 L1018.6 529.3 L1018.6 516" fill="none" stroke="#777" stroke-width="1"/>
<path d="M1011.6 538.5 L1018.6 538.5" fill="none" stroke="#505050" stroke-width="0.85"/>
<polygon points="1014.1,538.6 1017.9,537 1017.9,540.2" fill="#111"/>
<circle cx="1018.6" cy="516" r="1.6" fill="#111"/>
<text x="983" y="519.9" class="r" text-anchor="middle" textLength="30.5" lengthAdjust="spacingAndGlyphs">SenseFET</text>
<text x="1037.5" y="527.6" class="r" text-anchor="middle" textLength="19" lengthAdjust="spacingAndGlyphs">Power</text>
<text x="1037.3" y="536.1" class="r" text-anchor="middle" textLength="28.2" lengthAdjust="spacingAndGlyphs">FREDFET</text>
<text x="980.6" y="574.6" class="r" style="font-family:'DejaVu Sans Mono','Liberation Mono',monospace;font-size:8px;fill:#333" textLength="2.6" lengthAdjust="spacingAndGlyphs">I</text>
<text x="983.4" y="576.4" class="r" style="font-size:5px;fill:#707070" textLength="9" lengthAdjust="spacingAndGlyphs">SNS</text>
<path d="M997.8 564.9 L997.8 574.8" fill="none" stroke="#222" stroke-width="0.9"/>
<polygon points="997.8,578.3 995.9,573.3 999.7,573.3" fill="#111"/>
<text x="558.5" y="29.73" class="b" text-anchor="middle" textLength="14" lengthAdjust="spacingAndGlyphs">BPH</text>
<text x="1054.2" y="29.53" class="b" text-anchor="middle" textLength="10.4" lengthAdjust="spacingAndGlyphs">HD</text>
<text x="890.8" y="31.83" class="b" text-anchor="middle" textLength="44.6" lengthAdjust="spacingAndGlyphs">REGULATOR</text>
<text x="890.8" y="40.63" class="b" text-anchor="middle" textLength="22" lengthAdjust="spacingAndGlyphs">14.5 V</text>
<text x="618.3" y="92.53" class="b" text-anchor="middle" textLength="31.3" lengthAdjust="spacingAndGlyphs">DIGITAL</text>
<text x="617.9" y="101.33" class="b" text-anchor="middle" textLength="51.4" lengthAdjust="spacingAndGlyphs">PROCESS FOR</text>
<text x="619.2" y="110.03" class="b" text-anchor="middle" textLength="50.2" lengthAdjust="spacingAndGlyphs">TESTING AND</text>
<text x="619.3" y="118.83" class="b" text-anchor="middle" textLength="19.3" lengthAdjust="spacingAndGlyphs">TRIM</text>
<text x="777.2" y="96.63" class="b" text-anchor="middle" textLength="100.7" lengthAdjust="spacingAndGlyphs">ANALOG BUILDING BLOCK:</text>
<text x="776.7" y="105.43" class="b" text-anchor="middle" textLength="150.9" lengthAdjust="spacingAndGlyphs">VOLTAGE SUPPLY, REFERENCE VOLTAGE,</text>
<text x="776.8" y="114.13" class="b" text-anchor="middle" textLength="99.5" lengthAdjust="spacingAndGlyphs">REFERENCE CURRENT, CLK</text>
<text x="951.8" y="100.83" class="b" text-anchor="middle" textLength="41.4" lengthAdjust="spacingAndGlyphs">HS SYSTEM</text>
<text x="951.4" y="109.53" class="b" text-anchor="middle" textLength="67.2" lengthAdjust="spacingAndGlyphs">COMMUNICATION</text>
<text x="558.5" y="168.23" class="b" text-anchor="middle" textLength="10.5" lengthAdjust="spacingAndGlyphs">XH</text>
<text x="619" y="170.23" class="b" text-anchor="middle" textLength="59.9" lengthAdjust="spacingAndGlyphs">CURRENT LIMIT</text>
<text x="619.1" y="179.03" class="b" text-anchor="middle" textLength="37.4" lengthAdjust="spacingAndGlyphs">PROGRAM</text>
<text x="750.7" y="222.63" class="b" text-anchor="middle" textLength="34.8" lengthAdjust="spacingAndGlyphs">CURRENT</text>
<text x="750.7" y="231.33" class="b" text-anchor="middle" textLength="21.5" lengthAdjust="spacingAndGlyphs">LIMIT</text>
<text x="827.2" y="205.53" class="b" text-anchor="middle" textLength="45" lengthAdjust="spacingAndGlyphs">GATE LOGIC</text>
<text x="933" y="222.63" class="b" text-anchor="middle" textLength="29" lengthAdjust="spacingAndGlyphs">DRIVER</text>
<text x="619.2" y="247.13" class="b" text-anchor="middle" textLength="50.2" lengthAdjust="spacingAndGlyphs">HS RECEIVER</text>
<text x="1052.6" y="280.13" class="b" text-anchor="middle" textLength="10.2" lengthAdjust="spacingAndGlyphs">HB</text>
<text x="558.7" y="294.53" class="b" text-anchor="middle" textLength="13.3" lengthAdjust="spacingAndGlyphs">BPL</text>
<text x="558.3" y="334.73" class="b" text-anchor="middle" textLength="14" lengthAdjust="spacingAndGlyphs">INH</text>
<text x="558.3" y="351.63" class="b" text-anchor="middle" textLength="13" lengthAdjust="spacingAndGlyphs">INL</text>
<text x="619.5" y="345.13" class="b" text-anchor="middle" textLength="32.1" lengthAdjust="spacingAndGlyphs">INH/INL</text>
<text x="619.5" y="353.93" class="b" text-anchor="middle" textLength="35.6" lengthAdjust="spacingAndGlyphs">CONTROL</text>
<text x="558.3" y="404.13" class="b" text-anchor="middle" textLength="8.6" lengthAdjust="spacingAndGlyphs">ID</text>
<text x="618.2" y="405.83" class="b" text-anchor="middle" textLength="18" lengthAdjust="spacingAndGlyphs">CHIP</text>
<text x="618" y="414.63" class="b" text-anchor="middle" textLength="62.7" lengthAdjust="spacingAndGlyphs">CONFIGURATION</text>
<text x="558.8" y="463.93" class="b" text-anchor="middle" textLength="10" lengthAdjust="spacingAndGlyphs">SM</text>
<text x="618.9" y="462.43" class="b" text-anchor="middle" textLength="35.9" lengthAdjust="spacingAndGlyphs">LINE AND</text>
<text x="619.1" y="471.23" class="b" text-anchor="middle" textLength="53.9" lengthAdjust="spacingAndGlyphs">TEMPERATURE</text>
<text x="619.1" y="479.93" class="b" text-anchor="middle" textLength="36.4" lengthAdjust="spacingAndGlyphs">MONITOR</text>
<text x="558.5" y="523.63" class="b" text-anchor="middle" textLength="9.5" lengthAdjust="spacingAndGlyphs">XL</text>
<text x="618.2" y="525.73" class="b" text-anchor="middle" textLength="60.6" lengthAdjust="spacingAndGlyphs">CURRENT LIMIT</text>
<text x="618.3" y="534.53" class="b" text-anchor="middle" textLength="38.1" lengthAdjust="spacingAndGlyphs">PROGRAM</text>
<text x="558.5" y="582.63" class="b" text-anchor="middle" textLength="9.5" lengthAdjust="spacingAndGlyphs">SG</text>
<text x="1018.8" y="634.73" class="b" text-anchor="middle" textLength="7.5" lengthAdjust="spacingAndGlyphs">LS</text>
<text x="541.2" y="654" class="cap" textLength="116.2" lengthAdjust="spacingAndGlyphs">Functional Block Diagram BRD126X</text>
</g>
<rect x="0" y="0" width="1080" height="1.3" fill="#000"/>
<rect x="0" y="0" width="1" height="658" fill="#777"/>
<rect x="0" y="656.4" width="1080" height="1.6" fill="#000"/>
<rect x="1078.4" y="0" width="1.6" height="658" fill="#000"/>
<rect x="538.3" y="0" width="2.5" height="658" fill="#000"/>
</svg></body></html>
